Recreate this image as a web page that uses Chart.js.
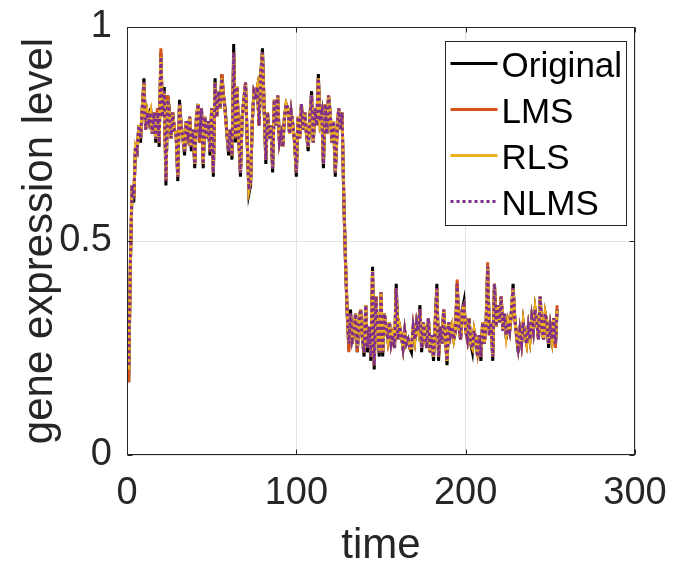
<!DOCTYPE html>
<html><head><meta charset="utf-8">
<script src="https://cdn.jsdelivr.net/npm/chart.js@4.4.1/dist/chart.umd.min.js"></script>
<style>html,body{margin:0;padding:0;background:#fff;} canvas{display:block;}</style>
</head><body>
<canvas id="c" width="673" height="562"></canvas>
<script>
const seriesNames = ['Original', 'LMS', 'RLS', 'NLMS'];
const seriesColors = ['#000000', '#D95319', '#EDB120', '#7E2F8E'];
const xTicks = [0, 100, 200, 300];
const yTicks = [0, 0.5, 1];
const xLabel = 'time';
const yLabel = 'gene expression level';

const original = [
 0.17,0.44,0.63,0.59,0.72,0.71,0.77,0.73,0.81,0.88,
 0.76,0.80,0.78,0.81,0.75,0.80,0.73,0.81,0.72,0.94,
 0.79,0.86,0.63,0.84,0.81,0.74,0.80,0.76,0.75,0.64,
 0.83,0.77,0.74,0.70,0.78,0.75,0.79,0.71,0.76,0.67,
 0.79,0.82,0.73,0.81,0.67,0.79,0.74,0.78,0.70,0.81,
 0.65,0.88,0.79,0.85,0.81,0.89,0.84,0.81,0.75,0.70,
 0.76,0.69,0.96,0.73,0.86,0.74,0.65,0.79,0.83,0.87,
 0.73,0.61,0.63,0.78,0.85,0.84,0.86,0.77,0.89,0.95,
 0.81,0.68,0.80,0.74,0.77,0.66,0.83,0.77,0.84,0.73,
 0.75,0.72,0.79,0.82,0.81,0.75,0.80,0.77,0.73,0.65,
 0.79,0.74,0.82,0.76,0.80,0.75,0.71,0.79,0.85,0.73,
 0.81,0.77,0.89,0.78,0.80,0.67,0.82,0.75,0.84,0.80,
 0.73,0.78,0.65,0.75,0.81,0.76,0.80,0.60,0.45,0.33,
 0.25,0.34,0.26,0.29,0.33,0.24,0.31,0.34,0.27,0.23,
 0.35,0.24,0.30,0.22,0.44,0.20,0.37,0.29,0.23,0.38,
 0.23,0.33,0.30,0.27,0.31,0.26,0.28,0.25,0.40,0.27,
 0.30,0.28,0.25,0.29,0.26,0.27,0.25,0.24,0.30,0.27,
 0.31,0.29,0.35,0.24,0.31,0.28,0.25,0.32,0.24,0.28,
 0.22,0.31,0.40,0.22,0.30,0.26,0.34,0.28,0.21,0.31,
 0.28,0.30,0.27,0.29,0.40,0.30,0.27,0.34,0.36,0.29,
 0.27,0.32,0.26,0.24,0.29,0.27,0.23,0.28,0.22,0.31,
 0.26,0.30,0.44,0.28,0.31,0.22,0.40,0.30,0.35,0.31,
 0.37,0.29,0.33,0.27,0.31,0.29,0.33,0.40,0.32,0.28,
 0.24,0.29,0.26,0.31,0.28,0.26,0.30,0.27,0.32,0.29,
 0.34,0.31,0.27,0.37,0.30,0.27,0.33,0.31,0.25,0.30,
 0.27,0.32,0.25,0.34
];

const lms = [
 0.17,0.45,0.63,0.60,0.72,0.71,0.77,0.74,0.81,0.87,
 0.76,0.80,0.78,0.80,0.75,0.80,0.74,0.81,0.73,0.95,
 0.79,0.85,0.64,0.84,0.80,0.74,0.80,0.76,0.75,0.65,
 0.82,0.77,0.74,0.71,0.78,0.75,0.79,0.72,0.76,0.68,
 0.79,0.82,0.73,0.81,0.68,0.79,0.74,0.78,0.71,0.81,
 0.66,0.87,0.79,0.85,0.81,0.89,0.84,0.80,0.75,0.71,
 0.76,0.70,0.94,0.74,0.86,0.74,0.66,0.79,0.83,0.87,
 0.73,0.62,0.64,0.78,0.85,0.84,0.86,0.77,0.89,0.94,
 0.81,0.69,0.80,0.74,0.77,0.67,0.83,0.77,0.84,0.73,
 0.75,0.72,0.79,0.82,0.81,0.75,0.80,0.77,0.73,0.66,
 0.79,0.74,0.82,0.76,0.80,0.75,0.72,0.79,0.84,0.73,
 0.81,0.77,0.88,0.78,0.80,0.68,0.82,0.75,0.84,0.80,
 0.73,0.78,0.66,0.75,0.81,0.76,0.80,0.61,0.46,0.34,
 0.24,0.33,0.26,0.29,0.33,0.24,0.31,0.34,0.27,0.24,
 0.35,0.25,0.30,0.23,0.43,0.21,0.37,0.29,0.24,0.38,
 0.24,0.33,0.30,0.27,0.31,0.26,0.28,0.25,0.39,0.27,
 0.30,0.28,0.25,0.29,0.26,0.27,0.25,0.25,0.30,0.27,
 0.31,0.29,0.34,0.25,0.31,0.28,0.25,0.32,0.24,0.28,
 0.23,0.31,0.39,0.23,0.30,0.26,0.34,0.28,0.22,0.31,
 0.28,0.30,0.27,0.29,0.41,0.30,0.27,0.34,0.35,0.29,
 0.27,0.32,0.26,0.25,0.29,0.27,0.24,0.28,0.23,0.31,
 0.26,0.30,0.45,0.28,0.31,0.23,0.40,0.30,0.35,0.31,
 0.37,0.29,0.33,0.28,0.31,0.29,0.33,0.39,0.32,0.28,
 0.25,0.29,0.26,0.31,0.28,0.26,0.30,0.27,0.32,0.29,
 0.34,0.31,0.27,0.36,0.30,0.27,0.33,0.31,0.26,0.30,
 0.27,0.32,0.25,0.35
];

const rls = [
 0.20,0.45,0.63,0.60,0.72,0.71,0.77,0.74,0.81,0.87,
 0.76,0.80,0.78,0.80,0.75,0.80,0.74,0.80,0.73,0.93,
 0.79,0.85,0.64,0.83,0.80,0.74,0.80,0.76,0.75,0.65,
 0.82,0.77,0.74,0.71,0.78,0.75,0.79,0.72,0.76,0.68,
 0.79,0.82,0.74,0.81,0.68,0.79,0.74,0.78,0.71,0.81,
 0.66,0.87,0.79,0.85,0.81,0.88,0.84,0.80,0.75,0.71,
 0.76,0.70,0.94,0.74,0.86,0.74,0.66,0.79,0.83,0.87,
 0.73,0.62,0.64,0.78,0.85,0.84,0.86,0.77,0.89,0.94,
 0.81,0.69,0.80,0.74,0.77,0.67,0.83,0.77,0.84,0.73,
 0.75,0.72,0.79,0.82,0.81,0.75,0.80,0.77,0.73,0.66,
 0.79,0.74,0.82,0.76,0.80,0.75,0.72,0.79,0.84,0.73,
 0.81,0.77,0.88,0.78,0.80,0.68,0.82,0.75,0.84,0.80,
 0.73,0.78,0.66,0.75,0.81,0.76,0.80,0.61,0.46,0.34,
 0.26,0.33,0.27,0.29,0.33,0.25,0.31,0.34,0.27,0.24,
 0.35,0.25,0.30,0.23,0.43,0.21,0.37,0.29,0.24,0.38,
 0.24,0.33,0.30,0.27,0.31,0.26,0.28,0.25,0.39,0.27,
 0.30,0.28,0.25,0.29,0.26,0.27,0.25,0.25,0.30,0.27,
 0.31,0.29,0.34,0.25,0.31,0.28,0.25,0.32,0.24,0.28,
 0.23,0.31,0.39,0.23,0.30,0.26,0.34,0.28,0.22,0.31,
 0.28,0.30,0.27,0.29,0.39,0.30,0.27,0.34,0.35,0.29,
 0.27,0.32,0.26,0.25,0.29,0.27,0.23,0.28,0.23,0.31,
 0.26,0.30,0.44,0.28,0.31,0.23,0.40,0.30,0.35,0.31,
 0.37,0.29,0.33,0.28,0.31,0.29,0.34,0.39,0.32,0.28,
 0.25,0.29,0.26,0.31,0.28,0.26,0.30,0.27,0.32,0.29,
 0.34,0.31,0.27,0.37,0.30,0.27,0.33,0.31,0.26,0.30,
 0.27,0.32,0.26,0.34
];

const nlms = [
 0.21,0.45,0.63,0.60,0.72,0.71,0.77,0.74,0.81,0.87,
 0.76,0.80,0.78,0.80,0.75,0.80,0.74,0.80,0.73,0.93,
 0.79,0.85,0.64,0.83,0.80,0.74,0.80,0.76,0.75,0.65,
 0.82,0.77,0.74,0.71,0.78,0.75,0.79,0.72,0.76,0.68,
 0.79,0.82,0.74,0.81,0.68,0.79,0.74,0.78,0.71,0.81,
 0.66,0.87,0.79,0.85,0.81,0.88,0.84,0.80,0.75,0.71,
 0.76,0.70,0.94,0.74,0.86,0.74,0.66,0.79,0.83,0.87,
 0.73,0.62,0.64,0.78,0.85,0.84,0.86,0.77,0.89,0.94,
 0.81,0.69,0.80,0.74,0.77,0.67,0.83,0.77,0.84,0.73,
 0.75,0.72,0.79,0.82,0.81,0.75,0.80,0.77,0.73,0.66,
 0.79,0.74,0.82,0.76,0.80,0.75,0.72,0.79,0.84,0.73,
 0.81,0.77,0.88,0.78,0.80,0.68,0.82,0.75,0.84,0.80,
 0.73,0.78,0.66,0.75,0.81,0.76,0.80,0.61,0.46,0.34,
 0.26,0.33,0.27,0.29,0.33,0.25,0.31,0.34,0.27,0.24,
 0.35,0.25,0.30,0.23,0.43,0.21,0.37,0.29,0.24,0.38,
 0.24,0.33,0.30,0.27,0.31,0.26,0.28,0.25,0.39,0.27,
 0.30,0.28,0.25,0.29,0.26,0.27,0.25,0.25,0.30,0.27,
 0.31,0.29,0.34,0.25,0.31,0.28,0.25,0.32,0.24,0.28,
 0.23,0.31,0.39,0.23,0.30,0.26,0.34,0.28,0.22,0.31,
 0.28,0.30,0.27,0.29,0.40,0.30,0.27,0.34,0.35,0.29,
 0.27,0.32,0.26,0.25,0.29,0.27,0.23,0.28,0.23,0.31,
 0.26,0.30,0.44,0.28,0.31,0.23,0.40,0.30,0.35,0.31,
 0.37,0.29,0.33,0.28,0.31,0.29,0.34,0.39,0.32,0.28,
 0.25,0.29,0.26,0.31,0.28,0.26,0.30,0.27,0.32,0.29,
 0.34,0.31,0.27,0.37,0.30,0.27,0.33,0.31,0.26,0.30,
 0.27,0.32,0.26,0.34
];

const seriesValues = [original, lms, rls, nlms];
const toPoints = arr => arr.map((v, i) => ({ x: i + 1, y: v }));

const fontFamily = '"Liberation Sans", Arial, Helvetica, sans-serif';
const tickFont = { family: fontFamily, size: 38 };
const axisColor = '#262626';

const framePlugin = {
  id: 'frame',
  afterDatasetsDraw(chart) {
    const { ctx, chartArea: a, scales: { x, y } } = chart;
    ctx.save();
    ctx.strokeStyle = axisColor;
    ctx.lineWidth = 1;
    ctx.setLineDash([]);
    const L = Math.round(a.left) + 0.5, R = Math.round(a.right) - 0.5;
    const T = Math.round(a.top) + 0.5, B = Math.round(a.bottom) - 0.5;
    ctx.strokeRect(L, T, R - L, B - T);
    ctx.beginPath();
    xTicks.forEach(v => {
      const px = Math.round(x.getPixelForValue(v)) + 0.5;
      ctx.moveTo(px, B); ctx.lineTo(px, B - 5);
      ctx.moveTo(px, T); ctx.lineTo(px, T + 5);
    });
    yTicks.forEach(v => {
      const py = Math.round(y.getPixelForValue(v)) + 0.5;
      ctx.moveTo(L, py); ctx.lineTo(L + 5, py);
      ctx.moveTo(R, py); ctx.lineTo(R - 5, py);
    });
    ctx.stroke();

    // legend inside plot area (top right)
    const bw = 181, bh = 184;
    const bx = Math.round(a.right) - 190 + 0.5, by = Math.round(a.top) + 14 + 0.5;
    ctx.fillStyle = '#ffffff';
    ctx.fillRect(bx, by, bw, bh);
    ctx.strokeStyle = axisColor;
    ctx.strokeRect(bx, by, bw, bh);
    ctx.font = '35px ' + fontFamily;
    ctx.textBaseline = 'alphabetic';
    ctx.textAlign = 'left';
    chart.data.datasets.forEach((ds, i) => {
      const ly = by + 22 + i * 46;
      ctx.beginPath();
      ctx.strokeStyle = ds.borderColor;
      ctx.lineWidth = 3;
      ctx.setLineDash(ds.borderDash || []);
      ctx.moveTo(bx + 5, ly);
      ctx.lineTo(bx + 52, ly);
      ctx.stroke();
      ctx.setLineDash([]);
      ctx.fillStyle = '#000000';
      ctx.fillText(ds.label, bx + 56, ly + 13);
    });
    ctx.restore();
  }
};

const datasets = seriesNames.map((name, i) => ({
  label: name,
  data: toPoints(seriesValues[i]),
  borderColor: seriesColors[i],
  backgroundColor: seriesColors[i],
  borderWidth: 3,
  borderDash: name === 'NLMS' ? [3, 3] : [],
  pointRadius: 0,
  fill: false,
  tension: 0,
  order: 3 - i
}));

new Chart(document.getElementById('c'), {
  type: 'line',
  data: { datasets },
  options: {
    responsive: false,
    animation: false,
    devicePixelRatio: 1,
    layout: { padding: { top: 27, right: 38, left: 0, bottom: 0 } },
    plugins: { legend: { display: false }, tooltip: { enabled: false } },
    scales: {
      x: {
        type: 'linear', min: 0, max: 300,
        afterBuildTicks: s => { s.ticks = xTicks.map(v => ({ value: v })); },
        afterFit: s => { s.height = 107; s.paddingLeft = 0; s.paddingRight = 0; },
        grid: { color: '#e3e3e3', lineWidth: 1, drawTicks: false },
        border: { display: false },
        ticks: { font: tickFont, color: axisColor, padding: 16, maxRotation: 0, autoSkip: false },
        title: { display: true, text: xLabel, color: axisColor,
          font: { family: fontFamily, size: 42, lineHeight: 0.74 },
          padding: { top: 0, bottom: 0 } }
      },
      y: {
        type: 'linear', min: 0, max: 1,
        afterBuildTicks: s => { s.ticks = yTicks.map(v => ({ value: v })); },
        afterFit: s => { s.width = 127; s.paddingTop = 0; s.paddingBottom = 0; },
        grid: { color: '#e3e3e3', lineWidth: 1, drawTicks: false },
        border: { display: false },
        ticks: { font: tickFont, color: axisColor, padding: 15, callback: v => String(v) },
        title: { display: true, text: yLabel, color: axisColor,
          font: { family: fontFamily, size: 42, lineHeight: 1 },
          padding: { top: 19, bottom: 0 } }
      }
    }
  },
  plugins: [framePlugin]
});
</script>
</body></html>
